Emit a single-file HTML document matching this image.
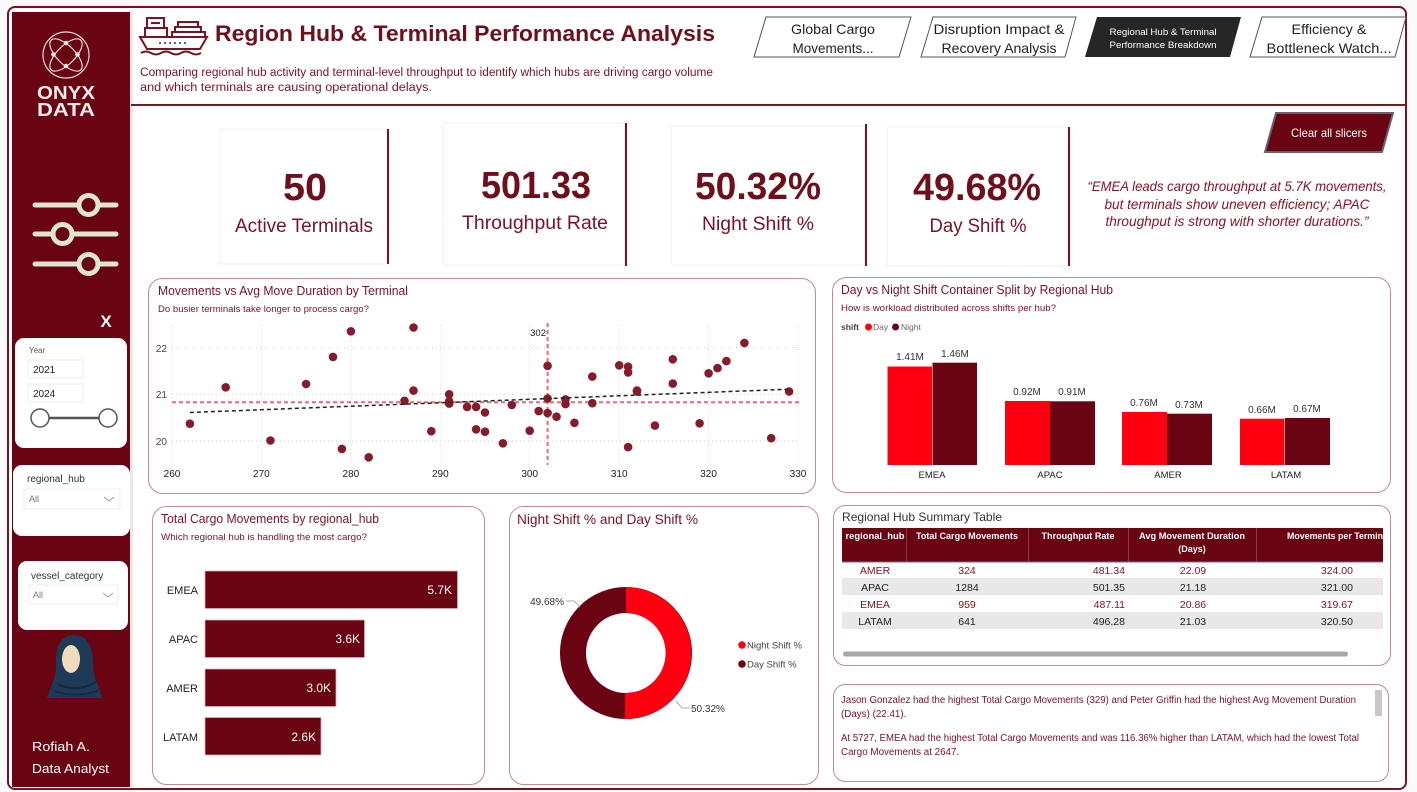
<!DOCTYPE html>
<html><head><meta charset="utf-8"><style>
html,body{margin:0;padding:0;background:#fff;}
svg{display:block;font-family:"Liberation Sans",sans-serif;}
</style></head><body>
<svg width="1417" height="792" viewBox="0 0 1417 792" xmlns="http://www.w3.org/2000/svg">
<rect x="0" y="0" width="1417" height="792" fill="#fafafa"/>
<!-- outer frame -->
<rect x="8" y="7" width="1398" height="782" rx="7" fill="#fff" stroke="#7a1222" stroke-width="2"/>
<!-- sidebar -->
<rect x="130" y="12" width="3" height="775" fill="#d8d8d8" opacity="0.6"/>
<rect x="12" y="12" width="118" height="775" fill="#690412"/>
<!-- logo -->
<g stroke="#ead9d9" stroke-width="1.2" fill="none">
<circle cx="66" cy="55" r="23"/>
<ellipse cx="66" cy="55" rx="21" ry="9" transform="rotate(45 66 55)"/>
<ellipse cx="66" cy="55" rx="21" ry="9" transform="rotate(-45 66 55)"/>
</g>
<g fill="#f3e6e6"><circle cx="66" cy="43" r="2.3"/><circle cx="53.5" cy="54.5" r="2.3"/><circle cx="77.5" cy="54.5" r="2.3"/><circle cx="66" cy="66" r="2.3"/></g>
<text x="66" y="99" font-size="18" font-weight="bold" fill="#f3eaea" text-anchor="middle" textLength="58" lengthAdjust="spacingAndGlyphs">ONYX</text>
<text x="66" y="116" font-size="18" font-weight="bold" fill="#f3eaea" text-anchor="middle" textLength="58" lengthAdjust="spacingAndGlyphs">DATA</text>
<!-- slider icon -->
<g stroke="#e2e4d4" stroke-width="5" stroke-linecap="round" fill="#690412">
<line x1="35" y1="205" x2="116" y2="205"/><line x1="35" y1="234" x2="116" y2="234"/><line x1="35" y1="264" x2="116" y2="264"/>
<circle cx="88.5" cy="205" r="9.5"/><circle cx="62.5" cy="234" r="9.5"/><circle cx="88.5" cy="264" r="9.5"/>
</g>
<text x="106" y="327" font-size="17" font-weight="bold" fill="#fff" text-anchor="middle">X</text>
<!-- year slicer -->
<rect x="15" y="338" width="112" height="110" rx="9" fill="#fff"/>
<text x="29" y="353" font-size="8" fill="#555">Year</text>
<rect x="28" y="360" width="55" height="18" fill="#fff" stroke="#eee"/>
<text x="33" y="373" font-size="10" fill="#222">2021</text>
<rect x="28" y="384" width="55" height="18" fill="#fff" stroke="#eee"/>
<text x="33" y="397" font-size="10" fill="#222">2024</text>
<line x1="40" y1="418" x2="108" y2="418" stroke="#555" stroke-width="2.5"/>
<circle cx="40" cy="418" r="9" fill="#fff" stroke="#555" stroke-width="1.5"/>
<circle cx="108" cy="418" r="9" fill="#fff" stroke="#555" stroke-width="1.5"/>
<!-- regional_hub slicer -->
<rect x="13" y="465" width="117" height="71" rx="9" fill="#fff"/>
<text x="27" y="482" font-size="10" fill="#333">regional_hub</text>
<rect x="24" y="489" width="96" height="20" fill="#fff" stroke="#eee"/>
<text x="29" y="502" font-size="9" fill="#777">All</text>
<polyline points="104,497 109,501 114,497" fill="none" stroke="#999" stroke-width="1"/>
<!-- vessel_category slicer -->
<rect x="18" y="561" width="110" height="69" rx="9" fill="#fff"/>
<text x="31" y="579" font-size="10" fill="#333">vessel_category</text>
<rect x="29" y="585" width="89" height="19" fill="#fff" stroke="#eee"/>
<text x="33" y="598" font-size="9" fill="#777">All</text>
<polyline points="103,593 108,597 113,593" fill="none" stroke="#999" stroke-width="1"/>
<!-- avatar -->
<path d="M74,635 C59,635 55,650 56,667 C56,678 50,688 47,698 L102,698 C100,688 94,679 93,668 C94,650 89,635 74,635 Z" fill="#1f3a56"/>
<ellipse cx="71" cy="659" rx="9" ry="14" fill="#f1dbbf"/>
<path d="M58,684 C68,690 82,690 96,682" stroke="#142a40" stroke-width="2" fill="none"/>
<path d="M55,691 C68,696 85,696 99,690" stroke="#142a40" stroke-width="1.5" fill="none"/>
<text x="32" y="751" font-size="13" fill="#fff" textLength="58" lengthAdjust="spacingAndGlyphs">Rofiah A.</text>
<text x="32" y="773" font-size="13" fill="#fff" textLength="77" lengthAdjust="spacingAndGlyphs">Data Analyst</text>

<!-- header -->
<line x1="131" y1="105" x2="1405" y2="105" stroke="#7a1a24" stroke-width="2"/>
<!-- ship icon -->
<g stroke="#7a1222" stroke-width="2" fill="none">
<rect x="147" y="18" width="17" height="10"/>
<line x1="151" y1="23" x2="160" y2="23"/>
<rect x="145" y="28" width="22" height="9"/>
<rect x="175" y="27" width="26" height="5"/>
<rect x="178" y="22" width="20" height="5"/>
<rect x="172" y="32" width="33" height="5"/>
<path d="M140,37 L207,37 L200,49 L147,49 Z"/>
<path d="M141,53 q5,-3 10,0 t10,0 t10,0 t10,0 t10,0 t10,0"/>
</g>
<g fill="#7a1222"><circle cx="160" cy="43" r="1"/><circle cx="165" cy="43" r="1"/><circle cx="170" cy="43" r="1"/><circle cx="175" cy="43" r="1"/><circle cx="180" cy="43" r="1"/><circle cx="185" cy="43" r="1"/></g>
<text x="215" y="41" font-size="22" font-weight="bold" fill="#6f0f1c" textLength="500" lengthAdjust="spacingAndGlyphs">Region Hub &amp; Terminal Performance Analysis</text>
<text x="140" y="76" font-size="11.5" fill="#7b1222" textLength="573" lengthAdjust="spacingAndGlyphs">Comparing regional hub activity and terminal-level throughput to identify which hubs are driving cargo volume</text>
<text x="140" y="91" font-size="11.5" fill="#7b1222" textLength="292" lengthAdjust="spacingAndGlyphs">and which terminals are causing operational delays.</text>

<!-- nav tabs -->
<polygon points="754,57 766,17 911,17 899,57" fill="#fff" stroke="#555" stroke-width="1"/>
<text x="833" y="34" font-size="14" fill="#222" text-anchor="middle" textLength="84" lengthAdjust="spacingAndGlyphs">Global Cargo</text>
<text x="833" y="53" font-size="14" fill="#222" text-anchor="middle" textLength="81" lengthAdjust="spacingAndGlyphs">Movements...</text>
<polygon points="921,57 933,17 1076,17 1065,57" fill="#fff" stroke="#555" stroke-width="1"/>
<text x="999" y="34" font-size="14" fill="#222" text-anchor="middle" textLength="131" lengthAdjust="spacingAndGlyphs">Disruption Impact &amp;</text>
<text x="999" y="53" font-size="14" fill="#222" text-anchor="middle" textLength="115" lengthAdjust="spacingAndGlyphs">Recovery Analysis</text>
<polygon points="1085,57 1097,17 1241,17 1230,57" fill="#262626"/>
<text x="1163" y="35" font-size="9" fill="#fff" text-anchor="middle" textLength="107" lengthAdjust="spacingAndGlyphs">Regional Hub &amp; Terminal</text>
<text x="1163" y="48" font-size="9" fill="#fff" text-anchor="middle" textLength="107" lengthAdjust="spacingAndGlyphs">Performance Breakdown</text>
<polygon points="1250,57 1262,17 1406,17 1395,57" fill="#fff" stroke="#555" stroke-width="1"/>
<text x="1329" y="34" font-size="14" fill="#222" text-anchor="middle" textLength="75" lengthAdjust="spacingAndGlyphs">Efficiency &amp;</text>
<text x="1329" y="53" font-size="14" fill="#222" text-anchor="middle" textLength="125" lengthAdjust="spacingAndGlyphs">Bottleneck Watch...</text>

<!-- clear all slicers -->
<polygon points="1265,152 1276,113 1393,113 1382,152" fill="#690412" stroke="#666" stroke-width="2"/>
<text x="1329" y="137" font-size="12" fill="#fff" text-anchor="middle" textLength="76" lengthAdjust="spacingAndGlyphs">Clear all slicers</text>

<!-- KPI cards -->
<g fill="#fff" stroke="#efefef" stroke-width="1">
<rect x="220" y="129" width="168" height="135" rx="2"/>
<rect x="443" y="123" width="182" height="142" rx="2"/>
<rect x="671" y="126" width="194" height="139" rx="2"/>
<rect x="887" y="127" width="181" height="139" rx="2"/>
</g>
<g stroke="#7a1222" stroke-width="2">
<line x1="388" y1="129" x2="388" y2="264"/>
<line x1="626" y1="123" x2="626" y2="266"/>
<line x1="866" y1="124" x2="866" y2="266"/>
<line x1="1069" y1="127" x2="1069" y2="266"/>
</g>
<g fill="#6f0f1c" text-anchor="middle">
<text x="305" y="200" font-size="38" font-weight="bold" textLength="44" lengthAdjust="spacingAndGlyphs">50</text>
<text x="304" y="232" font-size="19" fill="#7b1222">Active Terminals</text>
<text x="536" y="198" font-size="38" font-weight="bold" textLength="110" lengthAdjust="spacingAndGlyphs">501.33</text>
<text x="535" y="229" font-size="19" fill="#7b1222" textLength="146" lengthAdjust="spacingAndGlyphs">Throughput Rate</text>
<text x="758" y="199" font-size="38" font-weight="bold" textLength="126" lengthAdjust="spacingAndGlyphs">50.32%</text>
<text x="758" y="230" font-size="19" fill="#7b1222" textLength="112" lengthAdjust="spacingAndGlyphs">Night Shift %</text>
<text x="977" y="200" font-size="38" font-weight="bold" textLength="128" lengthAdjust="spacingAndGlyphs">49.68%</text>
<text x="978" y="232" font-size="19" fill="#7b1222" textLength="97" lengthAdjust="spacingAndGlyphs">Day Shift %</text>
</g>
<g font-size="14" font-style="italic" fill="#8a1424" text-anchor="middle">
<text x="1237" y="191" textLength="299" lengthAdjust="spacingAndGlyphs">“EMEA leads cargo throughput at 5.7K movements,</text>
<text x="1237" y="209" textLength="265" lengthAdjust="spacingAndGlyphs">but terminals show uneven efficiency; APAC</text>
<text x="1237" y="226" textLength="263" lengthAdjust="spacingAndGlyphs">throughput is strong with shorter durations.”</text>
</g>

<!-- chart cards -->
<g fill="#fff" stroke="#c48a90" stroke-width="1">
<rect x="148.5" y="278.5" width="667" height="215" rx="14"/>
<rect x="832.5" y="277.5" width="558" height="215" rx="14"/>
<rect x="833.5" y="505.5" width="557" height="160" rx="12"/>
<rect x="833.5" y="684.5" width="555" height="97" rx="12"/>
<rect x="152.5" y="506.5" width="332" height="278" rx="14"/>
<rect x="509.5" y="506.5" width="309" height="278" rx="14"/>
</g>

<!-- scatter -->
<text x="158" y="295" font-size="12.5" fill="#7b1222" textLength="250" lengthAdjust="spacingAndGlyphs">Movements vs Avg Move Duration by Terminal</text>
<text x="158" y="312" font-size="9.5" fill="#7b1222" textLength="211" lengthAdjust="spacingAndGlyphs">Do busier terminals take longer to process cargo?</text>
<g stroke="#cfcfcf" stroke-width="1" stroke-dasharray="1,3">
<line x1="172" y1="325" x2="172" y2="465"/><line x1="261.4" y1="325" x2="261.4" y2="465"/><line x1="350.9" y1="325" x2="350.9" y2="465"/><line x1="440.3" y1="325" x2="440.3" y2="465"/><line x1="529.7" y1="325" x2="529.7" y2="465"/><line x1="619.2" y1="325" x2="619.2" y2="465"/><line x1="708.6" y1="325" x2="708.6" y2="465"/><line x1="798" y1="325" x2="798" y2="465"/>
<line x1="172" y1="347.6" x2="800" y2="347.6"/><line x1="172" y1="394.3" x2="800" y2="394.3"/><line x1="172" y1="441" x2="800" y2="441"/>
</g>
<g font-size="10" fill="#444" text-anchor="end">
<text x="167" y="352">22</text><text x="167" y="398">21</text><text x="167" y="445">20</text>
</g>
<g font-size="10" fill="#222" text-anchor="middle">
<text x="172" y="477">260</text><text x="261.4" y="477">270</text><text x="350.9" y="477">280</text><text x="440.3" y="477">290</text><text x="529.7" y="477">300</text><text x="619.2" y="477">310</text><text x="708.6" y="477">320</text><text x="798" y="477">330</text>
</g>
<line x1="547.6" y1="323" x2="547.6" y2="465" stroke="#e86a72" stroke-width="2" stroke-dasharray="4,3"/>
<line x1="172" y1="402.2" x2="800" y2="402.2" stroke="#e86a72" stroke-width="2" stroke-dasharray="4,3"/>
<text x="546" y="336" font-size="9.5" fill="#222" text-anchor="end">302</text>
<g fill="#861b2b">
<circle cx="189.9" cy="423.7" r="4.3"/><circle cx="225.7" cy="387.3" r="4.3"/><circle cx="270.4" cy="440.5" r="4.3"/><circle cx="306.1" cy="384" r="4.3"/><circle cx="333" cy="356.9" r="4.3"/><circle cx="341.9" cy="448.9" r="4.3"/><circle cx="350.9" cy="331.3" r="4.3"/><circle cx="368.7" cy="457.3" r="4.3"/><circle cx="404.5" cy="400.8" r="4.3"/><circle cx="413.5" cy="327.5" r="4.3"/><circle cx="413.5" cy="390.6" r="4.3"/><circle cx="431.3" cy="431.2" r="4.3"/><circle cx="449.2" cy="394.3" r="4.3"/><circle cx="449.2" cy="401.3" r="4.3"/><circle cx="449.2" cy="403.6" r="4.3"/><circle cx="467.1" cy="406.9" r="4.3"/><circle cx="476.1" cy="406.9" r="4.3"/><circle cx="476.1" cy="429.3" r="4.3"/><circle cx="485" cy="412.5" r="4.3"/><circle cx="485" cy="431.7" r="4.3"/><circle cx="502.9" cy="443.3" r="4.3"/><circle cx="511.8" cy="405" r="4.3"/><circle cx="529.7" cy="430.7" r="4.3"/><circle cx="538.7" cy="411.1" r="4.3"/><circle cx="547.6" cy="365.8" r="4.3"/><circle cx="547.6" cy="398.5" r="4.3"/><circle cx="547.6" cy="413" r="4.3"/><circle cx="556.5" cy="416.7" r="4.3"/><circle cx="565.5" cy="399.4" r="4.3"/><circle cx="565.5" cy="404.1" r="4.3"/><circle cx="574.4" cy="422.8" r="4.3"/><circle cx="592.3" cy="376.6" r="4.3"/><circle cx="592.3" cy="403.2" r="4.3"/><circle cx="619.2" cy="365.3" r="4.3"/><circle cx="628.1" cy="366.7" r="4.3"/><circle cx="628.1" cy="372.4" r="4.3"/><circle cx="628.1" cy="447.1" r="4.3"/><circle cx="637" cy="390.6" r="4.3"/><circle cx="637" cy="391.5" r="4.3"/><circle cx="654.9" cy="425.6" r="4.3"/><circle cx="672.8" cy="359.3" r="4.3"/><circle cx="672.8" cy="383.6" r="4.3"/><circle cx="699.6" cy="423.3" r="4.3"/><circle cx="708.6" cy="373.3" r="4.3"/><circle cx="717.5" cy="368.1" r="4.3"/><circle cx="726.4" cy="361.1" r="4.3"/><circle cx="744.4" cy="342.9" r="4.3"/><circle cx="771.2" cy="438.2" r="4.3"/><circle cx="789.1" cy="391.5" r="4.3"/>
</g>
<line x1="189.9" y1="412.5" x2="789.1" y2="389.2" stroke="#222" stroke-width="1.5" stroke-dasharray="4,3"/>

<!-- day vs night -->
<text x="841" y="294" font-size="12.5" fill="#7b1222" textLength="272" lengthAdjust="spacingAndGlyphs">Day vs Night Shift Container Split by Regional Hub</text>
<text x="841" y="311" font-size="9.5" fill="#7b1222" textLength="215" lengthAdjust="spacingAndGlyphs">How is workload distributed across shifts per hub?</text>
<text x="841" y="330" font-size="8.5" font-weight="bold" fill="#444">shift</text>
<circle cx="868.5" cy="327" r="3.5" fill="#fe0010"/>
<text x="873" y="330" font-size="8.5" fill="#666">Day</text>
<circle cx="895.5" cy="327" r="3.5" fill="#6a0412"/>
<text x="901" y="330" font-size="8.5" fill="#666">Night</text>
<g fill="#fe0010">
<rect x="887.5" y="366.5" width="44.5" height="98.5"/><rect x="1005" y="401" width="45" height="64"/><rect x="1122" y="412" width="45" height="53"/><rect x="1240" y="418.7" width="44.5" height="46.3"/>
</g>
<g fill="#6a0412">
<rect x="932.5" y="362.7" width="44.5" height="102.3"/><rect x="1050" y="401.3" width="45" height="63.7"/><rect x="1167" y="413.7" width="45" height="51.3"/><rect x="1285" y="418" width="45" height="47"/>
</g>
<g font-size="10" fill="#333" text-anchor="middle">
<text x="910" y="360">1.41M</text><text x="955" y="357">1.46M</text>
<text x="1027" y="395">0.92M</text><text x="1072" y="395">0.91M</text>
<text x="1144" y="406">0.76M</text><text x="1189" y="408">0.73M</text>
<text x="1262" y="413">0.66M</text><text x="1307" y="412">0.67M</text>
</g>
<g font-size="9.5" fill="#222" text-anchor="middle">
<text x="932" y="478">EMEA</text><text x="1050" y="478">APAC</text><text x="1168" y="478">AMER</text><text x="1286" y="478">LATAM</text>
</g>

<!-- table -->
<text x="842" y="521" font-size="12" fill="#333" textLength="160" lengthAdjust="spacingAndGlyphs">Regional Hub Summary Table</text>
<rect x="842" y="528" width="541" height="34" fill="#690412"/>
<g stroke="#8a3a44" stroke-width="1">
<line x1="906.5" y1="528" x2="906.5" y2="562"/><line x1="1028.5" y1="528" x2="1028.5" y2="562"/><line x1="1128.5" y1="528" x2="1128.5" y2="562"/><line x1="1256.5" y1="528" x2="1256.5" y2="562"/>
</g>
<line x1="842" y1="562" x2="1383" y2="562" stroke="#7a6a90" stroke-width="1"/>
<g font-size="9" font-weight="bold" fill="#fff" text-anchor="middle">
<text x="875" y="539" textLength="59" lengthAdjust="spacingAndGlyphs">regional_hub</text>
<text x="967" y="539" textLength="102" lengthAdjust="spacingAndGlyphs">Total Cargo Movements</text>
<text x="1078" y="539" textLength="73" lengthAdjust="spacingAndGlyphs">Throughput Rate</text>
<text x="1192" y="539" textLength="106" lengthAdjust="spacingAndGlyphs">Avg Movement Duration</text>
<text x="1192" y="552">(Days)</text>
<text x="1287" y="539" text-anchor="start" textLength="96" lengthAdjust="spacingAndGlyphs">Movements per Termin</text>
</g>
<rect x="842" y="578" width="541" height="17" fill="#e8e8e8"/>
<rect x="842" y="612" width="541" height="17" fill="#e8e8e8"/>
<g font-size="10.5" fill="#7b1222">
<text x="875" y="574" text-anchor="middle">AMER</text><text x="967" y="574" text-anchor="middle">324</text><text x="1125" y="574" text-anchor="end">481.34</text><text x="1193" y="574" text-anchor="middle">22.09</text><text x="1353" y="574" text-anchor="end">324.00</text>
<text x="875" y="608" text-anchor="middle">EMEA</text><text x="967" y="608" text-anchor="middle">959</text><text x="1125" y="608" text-anchor="end">487.11</text><text x="1193" y="608" text-anchor="middle">20.86</text><text x="1353" y="608" text-anchor="end">319.67</text>
</g>
<g font-size="10.5" fill="#222">
<text x="875" y="591" text-anchor="middle">APAC</text><text x="967" y="591" text-anchor="middle">1284</text><text x="1125" y="591" text-anchor="end">501.35</text><text x="1193" y="591" text-anchor="middle">21.18</text><text x="1353" y="591" text-anchor="end">321.00</text>
<text x="875" y="625" text-anchor="middle">LATAM</text><text x="967" y="625" text-anchor="middle">641</text><text x="1125" y="625" text-anchor="end">496.28</text><text x="1193" y="625" text-anchor="middle">21.03</text><text x="1353" y="625" text-anchor="end">320.50</text>
</g>
<rect x="843" y="651.5" width="505" height="5" rx="2.5" fill="#a8a8a8"/>

<!-- narrative text -->
<g font-size="9.8" fill="#7b1222">
<text x="841" y="703" textLength="515" lengthAdjust="spacingAndGlyphs">Jason Gonzalez had the highest Total Cargo Movements (329) and Peter Griffin had the highest Avg Movement Duration</text>
<text x="841" y="717">(Days) (22.41).</text>
<text x="841" y="741" textLength="518" lengthAdjust="spacingAndGlyphs">At 5727, EMEA had the highest Total Cargo Movements and was 116.36% higher than LATAM, which had the lowest Total</text>
<text x="841" y="755">Cargo Movements at 2647.</text>
</g>
<rect x="1375" y="690" width="7" height="26" fill="#c8c8c8"/>

<!-- total cargo bars -->
<text x="161" y="523" font-size="12.5" fill="#7b1222" textLength="218" lengthAdjust="spacingAndGlyphs">Total Cargo Movements by regional_hub</text>
<text x="161" y="540" font-size="9.5" fill="#7b1222" textLength="206" lengthAdjust="spacingAndGlyphs">Which regional hub is handling the most cargo?</text>
<g fill="#6a0412" stroke="#d8b0b5" stroke-width="0.8">
<rect x="205" y="571" width="252.5" height="37.5"/>
<rect x="205" y="620" width="159.5" height="37.5"/>
<rect x="205" y="669" width="131" height="37.5"/>
<rect x="205" y="717.5" width="116" height="37.5"/>
</g>
<g font-size="11" fill="#222" text-anchor="end">
<text x="198" y="594">EMEA</text><text x="198" y="643">APAC</text><text x="198" y="692">AMER</text><text x="198" y="741">LATAM</text>
</g>
<g font-size="12" fill="#fff" text-anchor="end">
<text x="452" y="594">5.7K</text><text x="360" y="643">3.6K</text><text x="331" y="692">3.0K</text><text x="316" y="741">2.6K</text>
</g>

<!-- donut -->
<text x="517" y="524" font-size="14" fill="#7b1222" textLength="181" lengthAdjust="spacingAndGlyphs">Night Shift % and Day Shift %</text>
<circle cx="626" cy="653" r="53" fill="none" stroke="#6a0412" stroke-width="26"/>
<path d="M626,587 A66,66 0 1 1 624.67,719 L625.2,693 A40,40 0 1 0 626,613 Z" fill="#fe0010"/>
<polyline points="566,601 574,601 580,607" fill="none" stroke="#aaa" stroke-width="1"/>
<polyline points="676,701 682,708 690,708" fill="none" stroke="#aaa" stroke-width="1"/>
<text x="564" y="605" font-size="10" fill="#333" text-anchor="end">49.68%</text>
<text x="691" y="712" font-size="10" fill="#333">50.32%</text>
<circle cx="742" cy="645" r="3.8" fill="#fe0010"/>
<text x="747" y="648.5" font-size="9.5" fill="#444">Night Shift %</text>
<circle cx="742" cy="664" r="3.8" fill="#6a0412"/>
<text x="747" y="667.5" font-size="9.5" fill="#444">Day Shift %</text>
</svg>
</body></html>
